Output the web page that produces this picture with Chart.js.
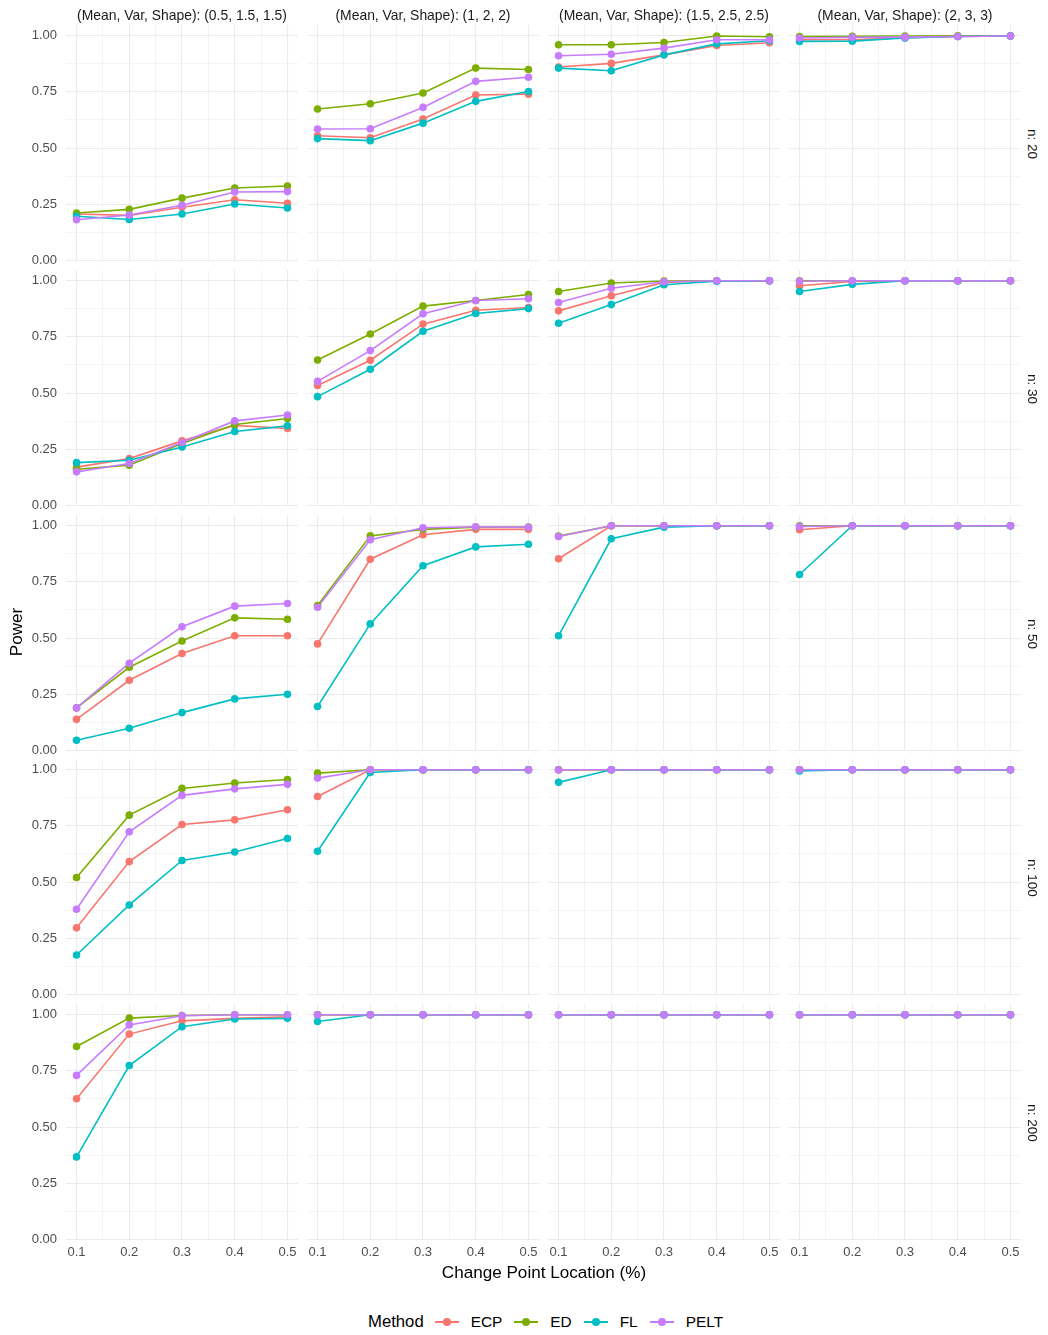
<!DOCTYPE html>
<html lang="en">
<head>
  <meta charset="UTF-8">
  <title>Power by change point location</title>
  <script src="https://cdn.jsdelivr.net/npm/chart.js"></script>
  <style>
    body {
      margin: 0;
      background: #fff;
      font-family: 'Liberation Sans', Arial, sans-serif;
    }

    #page {
      position: relative;
      width: 1048px;
      height: 1335px;
      overflow: hidden;
    }

    .panel { position: absolute; }

    .strip-top {
      position: absolute;
      top: 7px;
      height: 17px;
      line-height: 17px;
      text-align: center;
      font-size: 13.9px;
      color: #1a1a1a;
      white-space: nowrap;
    }

    .strip-right {
      position: absolute;
      width: 100px;
      height: 16px;
      line-height: 16px;
      text-align: center;
      font-size: 13.6px;
      color: #1a1a1a;
      transform: rotate(90deg);
      white-space: nowrap;
    }

    .axis-title {
      position: absolute;
      text-align: center;
      font-size: 17.1px;
      color: #000;
      white-space: nowrap;
    }

    #legend {
      position: absolute;
      left: 368px;
      top: 1312px;
      height: 20px;
      display: flex;
      align-items: center;
      white-space: nowrap;
    }

    #legend .title { font-size: 16.7px; margin-right: 11px; }
    #legend .label { font-size: 15.4px; margin: 0 12px 0 12px; color: #000; }
    #legend .key { position: relative; width: 24px; height: 20px; }
    #legend .key .ln { position: absolute; left: 0; right: 0; top: 9.2px; height: 1.6px; }
    #legend .key .dot { position: absolute; left: 8px; top: 6px; width: 8px; height: 8px; border-radius: 50%; }
  </style>
</head>
<body>
  <div id="page"></div>

  <script>
    // categories and tick labels
    const locations = [0.1, 0.2, 0.3, 0.4, 0.5];
    const xTicks = [0.1, 0.2, 0.3, 0.4, 0.5];
    const yTicks = [0, 0.25, 0.5, 0.75, 1];
    const shapes = [
      '(Mean, Var, Shape): (0.5, 1.5, 1.5)',
      '(Mean, Var, Shape): (1, 2, 2)',
      '(Mean, Var, Shape): (1.5, 2.5, 2.5)',
      '(Mean, Var, Shape): (2, 3, 3)'
    ];
    const sampleSizes = ['n: 20', 'n: 30', 'n: 50', 'n: 100', 'n: 200'];
    const methods = ['ECP', 'ED', 'FL', 'PELT'];

    // power values, one list per shape column
    const ecp20 = [[0.206, 0.200, 0.236, 0.270, 0.254], [0.555, 0.546, 0.629, 0.736, 0.740], [0.861, 0.877, 0.915, 0.957, 0.969], [0.982, 0.982, 0.991, 0.997, 0.999]];
    const ecp30 = [[0.170, 0.208, 0.287, 0.356, 0.342], [0.534, 0.646, 0.807, 0.869, 0.881], [0.866, 0.933, 0.993, 1, 1], [0.978, 0.997, 1, 1, 1]];
    const ecp50 = [[0.138, 0.312, 0.431, 0.510, 0.510], [0.474, 0.851, 0.960, 0.984, 0.984], [0.853, 1, 1, 1, 1], [0.982, 1, 1, 1, 1]];
    const ecp100 = [[0.296, 0.591, 0.756, 0.777, 0.822], [0.881, 1, 1, 1, 1], [1, 1, 1, 1, 1], [1, 1, 1, 1, 1]];
    const ecp200 = [[0.626, 0.914, 0.973, 0.984, 0.991], [1, 1, 1, 1, 1], [1, 1, 1, 1, 1], [1, 1, 1, 1, 1]];

    const ed20 = [[0.211, 0.227, 0.277, 0.322, 0.331], [0.674, 0.697, 0.745, 0.856, 0.850], [0.960, 0.960, 0.970, 0.999, 0.996], [0.997, 0.998, 0.999, 1, 1]];
    const ed30 = [[0.161, 0.179, 0.275, 0.360, 0.387], [0.647, 0.763, 0.887, 0.912, 0.939], [0.952, 0.990, 0.999, 1, 1], [1, 1, 1, 1, 1]];
    const ed50 = [[0.189, 0.370, 0.487, 0.590, 0.584], [0.645, 0.955, 0.984, 0.994, 0.994], [0.954, 1, 1, 1, 1], [1, 1, 1, 1, 1]];
    const ed100 = [[0.520, 0.798, 0.917, 0.941, 0.957], [0.985, 1, 1, 1, 1], [1, 1, 1, 1, 1], [1, 1, 1, 1, 1]];
    const ed200 = [[0.859, 0.985, 0.997, 1, 0.999], [1, 1, 1, 1, 1], [1, 1, 1, 1, 1], [1, 1, 1, 1, 1]];

    const fl20 = [[0.196, 0.182, 0.206, 0.251, 0.233], [0.542, 0.533, 0.611, 0.708, 0.752], [0.856, 0.844, 0.915, 0.964, 0.978], [0.975, 0.976, 0.990, 0.997, 0.999]];
    const fl30 = [[0.190, 0.201, 0.260, 0.329, 0.354], [0.484, 0.606, 0.775, 0.854, 0.876], [0.811, 0.894, 0.982, 0.998, 1], [0.952, 0.984, 1, 1, 1]];
    const fl50 = [[0.045, 0.098, 0.168, 0.229, 0.250], [0.195, 0.563, 0.822, 0.906, 0.918], [0.510, 0.942, 0.994, 1, 1], [0.783, 1, 1, 1, 1]];
    const fl100 = [[0.175, 0.398, 0.596, 0.634, 0.694], [0.637, 0.988, 1, 1, 1], [0.944, 1, 1, 1, 1], [0.995, 1, 1, 1, 1]];
    const fl200 = [[0.367, 0.774, 0.947, 0.981, 0.984], [0.970, 1, 1, 1, 1], [1, 1, 1, 1, 1], [1, 1, 1, 1, 1]];

    const pelt20 = [[0.181, 0.202, 0.245, 0.304, 0.306], [0.585, 0.586, 0.681, 0.797, 0.815], [0.911, 0.918, 0.945, 0.982, 0.982], [0.990, 0.993, 0.994, 0.997, 0.999]];
    const pelt30 = [[0.149, 0.186, 0.280, 0.376, 0.402], [0.552, 0.689, 0.853, 0.912, 0.920], [0.903, 0.967, 0.996, 1, 1], [0.998, 1, 1, 1, 1]];
    const pelt50 = [[0.189, 0.388, 0.550, 0.642, 0.654], [0.637, 0.938, 0.991, 0.996, 0.993], [0.952, 1, 1, 1, 1], [0.997, 1, 1, 1, 1]];
    const pelt100 = [[0.379, 0.724, 0.886, 0.915, 0.935], [0.963, 1, 1, 1, 1], [1, 1, 1, 1, 1], [1, 1, 1, 1, 1]];
    const pelt200 = [[0.730, 0.955, 0.996, 1, 1], [1, 1, 1, 1, 1], [1, 1, 1, 1, 1], [1, 1, 1, 1, 1]];

    const power = {
      ECP: [ecp20, ecp30, ecp50, ecp100, ecp200],
      ED: [ed20, ed30, ed50, ed100, ed200],
      FL: [fl20, fl30, fl50, fl100, fl200],
      PELT: [pelt20, pelt30, pelt50, pelt100, pelt200]
    };

    const colors = ['#F8766D', '#7CAE00', '#00BFC4', '#C77CFF'];

    // layout of the facet grid
    const panelLeft = [66, 307, 548, 789];
    const panelTop = [25, 270, 515, 759, 1004];
    const panelW = 232, panelH = 236;
    const yAxisW = 66, xAxisH = 26, pad = 10;

    // major + minor grid positions
    const withMinor = arr => {
      const out = [];
      arr.forEach((v, i) => {
        out.push(v);
        if (i < arr.length - 1) out.push((v + arr[i + 1]) / 2);
      });
      return out;
    };
    const xGrid = withMinor(xTicks);
    const yGrid = withMinor(yTicks);

    Chart.defaults.font.family = "'Liberation Sans', Arial, sans-serif";
    Chart.defaults.color = '#4D4D4D';

    const page = document.getElementById('page');

    function makePanel(r, c) {
      const first = c === 0;
      const last = r === sampleSizes.length - 1;
      const left = panelLeft[c] - (first ? yAxisW : 0);
      const top = panelTop[r] - pad;
      const w = panelW + (first ? yAxisW : 0);
      const h = panelH + pad + (last ? xAxisH : pad);

      const div = document.createElement('div');
      div.className = 'panel';
      div.style.left = left + 'px';
      div.style.top = top + 'px';
      div.style.width = w + 'px';
      div.style.height = h + 'px';
      const canvas = document.createElement('canvas');
      canvas.width = w;
      canvas.height = h;
      canvas.style.width = w + 'px';
      canvas.style.height = h + 'px';
      div.appendChild(canvas);
      page.appendChild(div);

      // lines first, points on top (like ggplot's two layers)
      const datasets = [];
      methods.forEach((m, k) => {
        const pts = locations.map((x, i) => ({ x: x, y: power[m][r][c][i] }));
        datasets.push({
          label: m, data: pts, borderColor: colors[k], borderWidth: 1.6,
          pointRadius: 0, pointHoverRadius: 0, order: 10 - k, clip: false
        });
        datasets.push({
          label: m, data: pts, showLine: false, pointRadius: 3.8, pointHoverRadius: 3.8,
          pointBackgroundColor: colors[k], pointBorderWidth: 0, order: 4 - k, clip: false
        });
      });

      new Chart(canvas, {
        type: 'line',
        data: { datasets: datasets },
        options: {
          responsive: false,
          animation: false,
          layout: { autoPadding: false, padding: { top: pad, bottom: last ? 0 : pad, left: 0, right: 0 } },
          plugins: { legend: { display: false }, tooltip: { enabled: false } },
          scales: {
            x: {
              type: 'linear', min: 0.08, max: 0.52,
              afterBuildTicks: s => { s.ticks = xGrid.map(v => ({ value: v })); },
              afterFit: s => { s.height = last ? xAxisH : 0; s.paddingLeft = 0; s.paddingRight = 0; },
              ticks: {
                display: last, autoSkip: false, maxRotation: 0, padding: 5,
                font: { size: 13 }, color: '#4D4D4D',
                callback: v => xTicks.indexOf(v) >= 0 ? v.toFixed(1) : ''
              },
              grid: {
                drawTicks: false, color: '#EBEBEB',
                lineWidth: ctx => (ctx.tick && xTicks.indexOf(ctx.tick.value) >= 0) ? 1.1 : 0.55
              },
              border: { display: false }
            },
            y: {
              type: 'linear', min: -0.003, max: 1.048,
              afterBuildTicks: s => { s.ticks = yGrid.map(v => ({ value: v })); },
              afterFit: s => { s.width = first ? yAxisW : 0; s.paddingTop = 0; s.paddingBottom = 0; },
              ticks: {
                display: first, autoSkip: false, padding: 9,
                font: { size: 13 }, color: '#4D4D4D',
                callback: v => yTicks.indexOf(v) >= 0 ? v.toFixed(2) : ''
              },
              grid: {
                drawTicks: false, color: '#EBEBEB',
                lineWidth: ctx => (ctx.tick && yTicks.indexOf(ctx.tick.value) >= 0) ? 1.1 : 0.55
              },
              border: { display: false }
            }
          }
        }
      });
    }

    for (let r = 0; r < sampleSizes.length; r++) {
      for (let c = 0; c < shapes.length; c++) makePanel(r, c);
    }

    // strip labels
    shapes.forEach((s, c) => {
      const d = document.createElement('div');
      d.className = 'strip-top';
      d.style.left = panelLeft[c] + 'px';
      d.style.width = panelW + 'px';
      d.textContent = s;
      page.appendChild(d);
    });
    sampleSizes.forEach((s, r) => {
      const d = document.createElement('div');
      d.className = 'strip-right';
      d.style.left = (1032 - 50) + 'px';
      d.style.top = (panelTop[r] + panelH / 2 - 7) + 'px';
      d.textContent = s;
      page.appendChild(d);
    });

    // axis titles
    const yTitle = document.createElement('div');
    yTitle.className = 'axis-title';
    yTitle.style.left = (17 - 40) + 'px';
    yTitle.style.top = (632 - 10) + 'px';
    yTitle.style.width = '80px';
    yTitle.style.height = '20px';
    yTitle.style.lineHeight = '20px';
    yTitle.style.transform = 'rotate(-90deg)';
    yTitle.textContent = 'Power';
    page.appendChild(yTitle);

    const xTitle = document.createElement('div');
    xTitle.className = 'axis-title';
    xTitle.style.left = (544 - 200) + 'px';
    xTitle.style.top = (1273 - 10) + 'px';
    xTitle.style.width = '400px';
    xTitle.style.height = '20px';
    xTitle.style.lineHeight = '20px';
    xTitle.textContent = 'Change Point Location (%)';
    page.appendChild(xTitle);

    // legend
    const legend = document.createElement('div');
    legend.id = 'legend';
    let html = '<span class="title">Method</span>';
    methods.forEach((m, k) => {
      html += '<span class="key"><span class="ln" style="background:' + colors[k] + '"></span>' +
        '<span class="dot" style="background:' + colors[k] + '"></span></span>' +
        '<span class="label">' + m + '</span>';
    });
    legend.innerHTML = html;
    page.appendChild(legend);
  </script>
</body>
</html>
